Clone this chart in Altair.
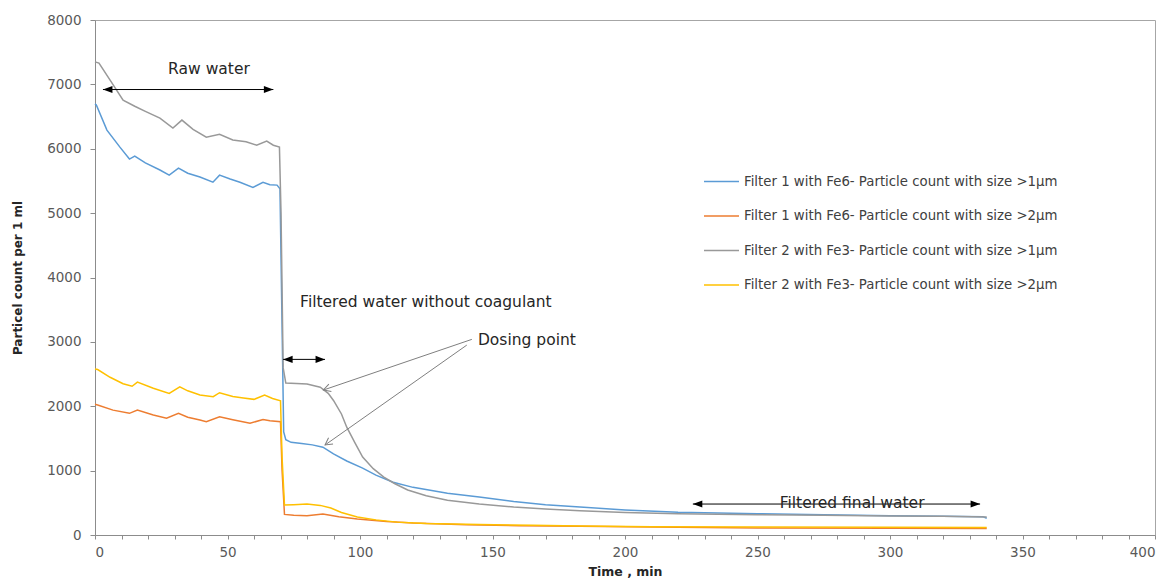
import math
import altair as alt
import pandas as pd

# ---------------- data ----------------
S1 = "Filter 1 with Fe6- Particle count with size >1µm"
S2 = "Filter 1 with Fe6- Particle count with size >2µm"
S3 = "Filter 2 with Fe3- Particle count with size >1µm"
S4 = "Filter 2 with Fe3- Particle count with size >2µm"
series_names = [S1, S2, S3, S4]
series_colors = ["#5B9BD5", "#ED7D31", "#999999", "#FFC000"]

t_f1_1 = [0, 0.5, 4.5, 9.4, 13, 15, 19, 24.5, 28, 31.5, 35, 39.6, 44.5, 47, 51, 54.7,
          59.6, 63.4, 66, 68.7, 69.8, 70.5, 71.2, 72, 74, 78, 82, 86, 90, 95, 101, 106,
          112.5, 120, 133, 145, 158, 170, 183, 200, 220, 250, 275, 300, 320, 335, 336.5]
v_f1_1 = [6700, 6680, 6290, 6025, 5840, 5885, 5780, 5670, 5590, 5700, 5620, 5560, 5480,
          5590, 5530, 5480, 5400, 5480, 5440, 5435, 5380, 3500, 1600, 1480, 1440, 1420,
          1400, 1364, 1260, 1150, 1040, 930, 820, 740, 650, 590, 520, 470, 435, 390, 355,
          330, 315, 300, 290, 285, 260]

t_f1_2 = [0, 1, 6.8, 13, 16, 22, 27, 31.5, 35, 39.6, 42, 47, 52, 58.5, 63.4, 66, 70,
          70.6, 71.5, 75, 80, 86, 92, 99, 110, 120, 140, 160, 183, 210, 250, 300, 336.5]
v_f1_2 = [2030, 2020, 1940, 1890, 1940, 1865, 1815, 1890, 1830, 1785, 1760, 1835, 1790,
          1735, 1795, 1775, 1760, 1000, 320, 305, 300, 325, 285, 250, 210, 185, 160, 145,
          135, 125, 110, 105, 100]

t_f2_1 = [0, 1.5, 5.7, 10.6, 15, 19, 24.5, 29.4, 32.8, 37, 42, 47, 52, 57, 61, 64.8,
          67.3, 69.6, 70.2, 71, 72, 76, 80, 85, 88, 90, 93, 95, 98, 101, 105, 109, 113,
          118, 125, 133, 145, 158, 170, 183, 200, 220, 250, 275, 300, 320, 336.5]
v_f2_1 = [7350, 7330, 7065, 6755, 6660, 6580, 6475, 6320, 6445, 6300, 6180, 6225, 6135,
          6110, 6055, 6120, 6055, 6025, 5000, 2600, 2360, 2355, 2345, 2295, 2200, 2090,
          1880, 1675, 1440, 1210, 1030, 900, 800, 700, 610, 540, 480, 435, 405, 375, 350,
          330, 315, 305, 295, 290, 280]

t_f2_2 = [0, 1, 5.7, 10.6, 14, 16, 22, 28, 32, 35, 39.6, 44.6, 47, 52, 56, 60, 64, 67,
          70, 70.6, 71.5, 75, 80, 85, 89, 93, 99, 106, 114, 125, 145, 165, 183, 210, 250,
          300, 336.5]
v_f2_2 = [2580, 2570, 2450, 2350, 2310, 2375, 2280, 2200, 2300, 2240, 2175, 2148, 2210,
          2150, 2130, 2107, 2174, 2120, 2085, 1200, 465, 470, 480, 460, 420, 350, 280, 235,
          200, 180, 165, 150, 140, 130, 125, 120, 115]

# annotation texts and arrow end points (data units)
ann_text = ["Raw water", "Filtered water without coagulant", "Dosing point", "Filtered final water"]
ann_t = [43, 77.4, 144.5, 285.7]
ann_v = [7236, 3623, 3028, 500]
ann_align = ["center", "left", "left", "center"]

dbl_t1 = [3, 71, 225.6]
dbl_t2 = [67.3, 86.8, 334]
dbl_v = [6920, 2728, 481]

dose_t1 = [142.2, 140.3]
dose_v1 = [3039, 2950]
dose_t2 = [86.2, 86.8]
dose_v2 = [2252, 1398]

x_ticks = list(range(0, 401, 10))
y_ticks = list(range(0, 8001, 1000))

# ---------------- layout ----------------
W, H = 1060, 515
FONT = "DejaVu Sans"

rows = []
for name, ts, vs in [(S1, t_f1_1, v_f1_1), (S2, t_f1_2, v_f1_2),
                     (S3, t_f2_1, v_f2_1), (S4, t_f2_2, v_f2_2)]:
    for i, (t, v) in enumerate(zip(ts, vs)):
        rows.append({"series": name, "t": t, "v": v, "order": i})
df = pd.DataFrame(rows)

xs = alt.Scale(domain=[0, 400], nice=False, zero=False)
ys = alt.Scale(domain=[0, 8000], nice=False)

X_AX = alt.Axis(
    values=x_ticks, title="Time , min",
    labelExpr="datum.value % 50 === 0 ? datum.label : ''",
    tickSize=4, labelPadding=6, labelFontSize=13.5, labelColor="#595959",
    titleFontSize=12.5, titleFontWeight="bold", titleColor="#262626",
    titleY=36, titleBaseline="middle", grid=False,
    domainColor="#8c8c8c", tickColor="#8c8c8c")
Y_AX = alt.Axis(
    values=y_ticks, title="Particel count per 1 ml", format="d",
    tickSize=5, labelPadding=9, labelFontSize=13.5, labelColor="#595959",
    titleFontSize=12, titleFontWeight="bold", titleColor="#262626",
    titleX=-78, titleY=H / 2, titleBaseline="middle", grid=False,
    domainColor="#8c8c8c", tickColor="#8c8c8c")


def X(field="t"):
    return alt.X(f"{field}:Q", scale=xs, axis=X_AX, title="Time , min")


def Y(field="v"):
    return alt.Y(f"{field}:Q", scale=ys, axis=Y_AX, title="Particel count per 1 ml")


lines = alt.Chart(df).mark_line(strokeWidth=1.5).encode(
    x=X(), y=Y(),
    color=alt.Color("series:N", scale=alt.Scale(domain=series_names, range=series_colors),
                    sort=series_names,
                    legend=alt.Legend(title=None, orient="none", legendX=608, legendY=143,
                                      symbolType="stroke", symbolSize=1225,
                                      symbolStrokeWidth=1.5, labelFontSize=13.3,
                                      labelFont=FONT, labelColor="#404040",
                                      labelLimit=600, rowPadding=9.5, labelOffset=4)),
    order="order:Q",
    detail="series:N",
)

# double-headed black arrows
dbl = pd.DataFrame({"t": dbl_t1, "t2": dbl_t2, "v": dbl_v})
dbl_rules = alt.Chart(dbl).mark_rule(color="black", strokeWidth=1).encode(
    x=X(), x2="t2:Q", y=Y())
heads = pd.DataFrame({
    "t": dbl_t1 + dbl_t2,
    "v": dbl_v + dbl_v,
    "angle": [180] * len(dbl_t1) + [0] * len(dbl_t2),
})
dbl_heads = alt.Chart(heads).mark_point(
    shape="M0,0L-2,-0.75L-2,0.75Z", filled=True, color="black", size=90, opacity=1
).encode(x=X(), y=Y(), angle=alt.Angle("angle:Q", scale=None))

# dosing point arrows (gray, open heads)
angles = []
for a, b, c, d in zip(dose_t1, dose_v1, dose_t2, dose_v2):
    dx = (c - a) * W / 400
    dy = -(d - b) * H / 8000
    angles.append(math.degrees(math.atan2(dy, dx)) % 360)
dose = pd.DataFrame({"t0": dose_t1, "v0": dose_v1, "t": dose_t2, "v": dose_v2,
                     "angle": angles})
dose_rules = alt.Chart(dose).mark_rule(color="#7f7f7f", strokeWidth=1).encode(
    x=X(), x2="t0:Q", y=Y(), y2="v0:Q")
dose_heads = alt.Chart(dose).mark_point(
    shape="M-1,-0.55L0,0L-1,0.55", filled=False, color="#7f7f7f", size=200,
    strokeWidth=1, opacity=1
).encode(x=X(), y=Y(), angle=alt.Angle("angle:Q", scale=None))

# texts
ann = pd.DataFrame({"text": ann_text, "t": ann_t, "v": ann_v, "align": ann_align})
txt_layers = []
for al in ["center", "left"]:
    sub = ann[ann["align"] == al]
    txt_layers.append(
        alt.Chart(sub).mark_text(align=al, baseline="middle", fontSize=15.5, font=FONT,
                                 color="#262626").encode(
            x=X(), y=Y(), text="text:N"))

chart = alt.layer(lines, dbl_rules, dbl_heads, dose_rules, dose_heads, *txt_layers).properties(
    width=W, height=H,
    autosize=alt.AutoSizeParams(type="none"),
    padding={"left": 87, "top": 12, "right": 6, "bottom": 45},
).configure(font=FONT).configure_view(stroke="#a6a6a6", strokeWidth=1)

chart.save("out.html", embed_options={"renderer": "svg", "actions": False})
